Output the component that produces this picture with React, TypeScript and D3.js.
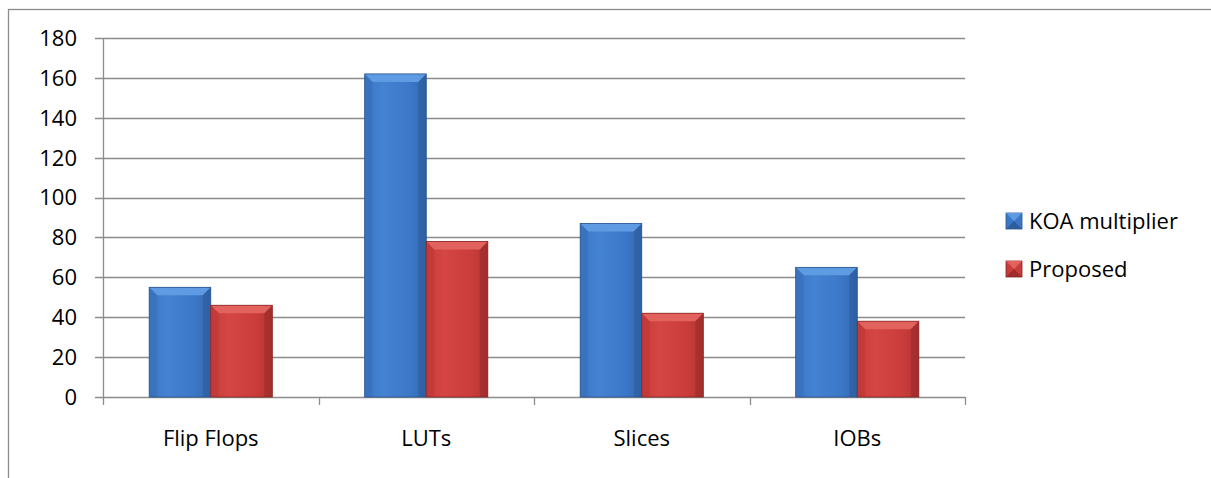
import React from "react";
import * as d3 from "d3";

// chart data
const categories = ["Flip Flops", "LUTs", "Slices", "IOBs"];
const koaValues = [55, 162, 87, 65];
const proposedValues = [46, 78, 42, 38];
const seriesNames = ["KOA multiplier", "Proposed"];
const yTicks = [0, 20, 40, 60, 80, 100, 120, 140, 160, 180];

const W = 1211;
const H = 478;
const left = 103;
const right = 965;
const top = 38;
const bottom = 397;
const font = "'Open Sans', 'Noto Sans', sans-serif";

const palettes = [
  { base: "#3b77c6", light: "#4483d2", dark: "#27548f", topFace: "#5f9be2", side: "#3368b0" },
  { base: "#c93c3a", light: "#d44643", dark: "#8a2524", topFace: "#e2625e", side: "#b13533" },
];

const Bar = ({ x, y, w, h, s }: { x: number; y: number; w: number; h: number; s: number }) => {
  const p = palettes[s];
  const b = Math.min(8, h / 2);
  return (
    <g>
      <rect x={x} y={y} width={w} height={h} fill={`url(#grad${s})`} />
      {/* top bevel */}
      <polygon points={`${x},${y} ${x + w},${y} ${x + w - b},${y + b} ${x + b},${y + b}`} fill={p.topFace} />
      {/* left edge */}
      <polygon points={`${x},${y} ${x + b},${y + b} ${x + b},${y + h} ${x},${y + h}`} fill={p.side} opacity={0.35} />
      {/* right edge */}
      <polygon points={`${x + w},${y} ${x + w - b},${y + b} ${x + w - b},${y + h} ${x + w},${y + h}`} fill={p.dark} opacity={0.4} />
      <rect x={x} y={y} width={w} height={h} fill="none" stroke={p.dark} strokeWidth={0.8} />
    </g>
  );
};

export default function App() {
  const y = d3.scaleLinear().domain([0, 180]).range([bottom, top]);
  const x0 = d3.scaleBand<string>().domain(categories).range([left, right]);
  const groupW = x0.bandwidth() * (2 / 3.5);
  const x1 = d3.scaleBand<number>().domain([0, 1]).range([0, groupW]);
  const series = [koaValues, proposedValues];
  const catTicks = [left, ...categories.map((c) => (x0(c) as number) + x0.bandwidth())];

  return (
    <svg width={W} height={H} style={{ position: "fixed", left: 0, top: 0, background: "#fff" }}>
      <defs>
        {palettes.map((p, i) => (
          <linearGradient key={i} id={`grad${i}`} x1="0" x2="1" y1="0" y2="0">
            <stop offset="0" stopColor={p.base} />
            <stop offset="0.3" stopColor={p.light} />
            <stop offset="0.75" stopColor={p.base} />
            <stop offset="1" stopColor={p.side} />
          </linearGradient>
        ))}
      </defs>
      <rect x={8.5} y={9.5} width={1300} height={500} fill="#fff" stroke="#8c8c8c" strokeWidth={1.3} />

      {/* gridlines and y labels */}
      {yTicks.map((t) => (
        <g key={t}>
          <line x1={95} x2={right} y1={Math.round(y(t)) + 0.5} y2={Math.round(y(t)) + 0.5} stroke="#8c8c8c" strokeWidth={1.3} />
          <text x={77} y={y(t)} dy="0.36em" textAnchor="end" fontFamily={font} fontSize={22} fill="#000">
            {t}
          </text>
        </g>
      ))}
      <line x1={left + 0.5} x2={left + 0.5} y1={top} y2={bottom} stroke="#8c8c8c" strokeWidth={1.3} />
      {catTicks.map((cx, i) => (
        <line key={i} x1={Math.round(cx) + 0.5} x2={Math.round(cx) + 0.5} y1={bottom} y2={405} stroke="#8c8c8c" strokeWidth={1.3} />
      ))}

      {/* bars */}
      {categories.map((c, i) => {
        const gx = (x0(c) as number) + (x0.bandwidth() - groupW) / 2;
        return series.map((vals, s) => (
          <Bar key={c + s} x={gx + (x1(s) as number)} y={y(vals[i])} w={x1.bandwidth()} h={bottom - y(vals[i])} s={s} />
        ));
      })}

      {/* x labels */}
      {categories.map((c) => (
        <text key={c} x={(x0(c) as number) + x0.bandwidth() / 2} y={446} textAnchor="middle" fontFamily={font} fontSize={22} fill="#000">
          {c}
        </text>
      ))}

      {/* legend */}
      {seriesNames.map((n, i) => {
        const ly = 213 + i * 48;
        const p = palettes[i];
        return (
          <g key={n}>
            <rect x={1006} y={ly} width={16} height={16} fill={p.base} stroke={p.dark} strokeWidth={0.8} />
            <polygon points={`${1006},${ly} ${1022},${ly} ${1014},${ly + 8}`} fill={p.topFace} />
            <polygon points={`${1006},${ly + 16} ${1022},${ly + 16} ${1014},${ly + 8}`} fill={p.dark} opacity={0.7} />
            <text x={1029} y={ly + 15.5} fontFamily={font} fontSize={22} fill="#000">
              {n}
            </text>
          </g>
        );
      })}
    </svg>
  );
}
